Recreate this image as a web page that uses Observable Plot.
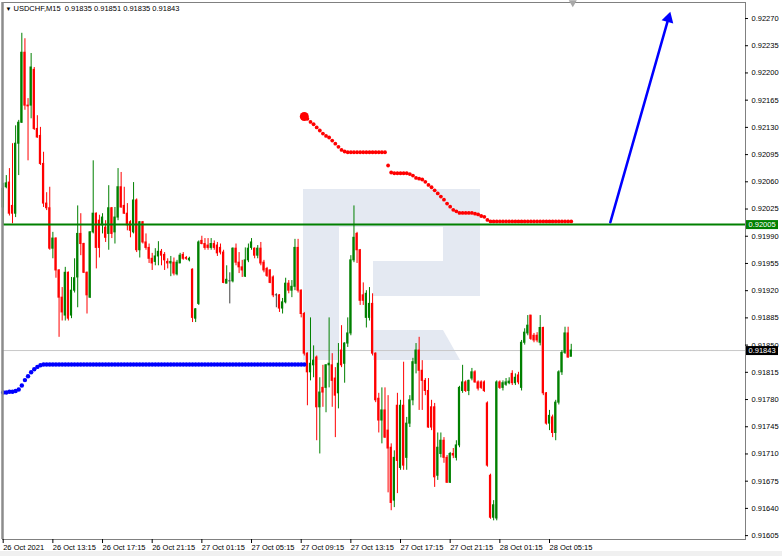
<!DOCTYPE html>
<html><head><meta charset="utf-8">
<script src="https://cdn.jsdelivr.net/npm/d3@7"></script>
<script src="https://cdn.jsdelivr.net/npm/@observablehq/plot@0.6"></script>
<style>
html,body{margin:0;padding:0;background:#fff;}
#wrap{position:relative;width:782px;height:556px;overflow:hidden;}
#bg{position:absolute;left:0;top:0;}
#chart{position:absolute;left:0;top:0;}
</style></head><body>
<div id="wrap">
<svg id="bg" width="782" height="556">
  <rect x="0" y="551" width="782" height="5" fill="#f0f0f0"/>
  <path d="M303,189H480V296H373V261H443V227H339V360H303Z" fill="#e4e9f2"/>
  <path d="M373,330H443L460,360H373Z" fill="#e4e9f2"/>
</svg>
<div id="chart"></div>
</div>
<script>
// Prices in points (price x 100000), one value per 15-minute bar, starting 26 Oct 2021 09:15
const openPts = [
92027,92053,92059,92029,92019,92109,92136,92226,92158,92158,
92204,92128,92119,92083,92032,92026,91974,91987,91946,91911,
91888,91943,91888,91920,91937,91993,91980,91943,91911,91995,
92019,92010,92004,92001,91993,92026,91995,92014,92053,92029,
92019,92008,91995,92036,91972,92008,91982,91975,91961,91957,
91964,91970,91966,91957,91955,91956,91941,91955,91966,91962,
91959,91947,91884,91903,91984,91980,91978,91975,91980,91978,
91975,91969,91929,91932,91932,91974,91956,91950,91938,91959,
91975,91974,91965,91974,91956,91948,91946,91937,91914,91914,
91897,91905,91929,91920,91925,91975,91920,91890,91839,91815,
91824,91834,91770,91795,91795,91824,91824,91807,91788,91843,
91826,91852,91865,91959,91993,91972,91914,91885,91885,91903,
91839,91781,91753,91766,91740,91718,91650,91772,91692,91772,
91705,91749,91779,91826,91843,91817,91804,91791,91770,91770,
91682,91710,91727,91705,91673,91710,91705,91721,91791,91802,
91791,91807,91815,91802,91802,91802,91775,91682,91628,91627,
91802,91795,91799,91801,91813,91801,91811,91795,91853,91865,
91888,91862,91862,91853,91872,91788,91749,91757,91737,91776,
91815,91840,91865,91835];
const highPts = [
92058,92068,92077,92109,92132,92139,92251,92244,92167,92225,
92207,92145,92130,92098,92046,92053,91995,91988,91947,91924,
91950,91944,91937,91961,92029,92019,91981,91944,91996,92087,
92020,92017,92019,92010,92055,92027,92027,92077,92072,92053,
92032,92010,92059,92038,92009,92009,91993,91980,91968,91974,
91983,91973,91969,91961,91964,91962,91959,91968,91969,91964,
91963,91948,91897,91984,91990,91987,91987,91987,91984,91982,
91980,91972,91952,91943,91975,91980,91969,91959,91975,91980,
91987,91975,91978,91982,91959,91950,91947,91939,91916,91915,
91910,91936,91933,91933,91986,91986,91921,91892,91840,91885,
91849,91836,91808,91824,91825,91885,91839,91821,91852,91875,
91853,91885,91965,92029,91995,91973,91930,91920,91924,91916,
91840,91788,91795,91795,91785,91723,91714,91788,91779,91828,
91757,91785,91833,91852,91860,91830,91807,91807,91779,91775,
91737,91737,91731,91708,91712,91717,91727,91797,91824,91804,
91805,91820,91817,91804,91804,91804,91777,91684,91650,91804,
91804,91804,91807,91808,91817,91813,91815,91856,91871,91888,
91888,91865,91866,91888,91873,91789,91766,91760,91779,91817,
91843,91873,91873,91851];
const lowPts = [
92004,92051,92016,92006,92014,92068,92135,92152,92087,92141,
92126,92116,92081,92027,92023,91972,91961,91936,91860,91881,
91881,91881,91884,91917,91898,91965,91942,91890,91910,91993,
91948,91962,91993,91982,91972,91987,91980,92010,92026,92018,
91997,91988,91993,91969,91962,91980,91972,91955,91946,91952,
91952,91952,91946,91948,91938,91939,91939,91955,91959,91959,
91957,91879,91879,91901,91979,91972,91972,91972,91972,91964,
91966,91929,91929,91903,91930,91952,91942,91937,91937,91956,
91972,91961,91961,91952,91943,91937,91929,91911,91898,91892,
91890,91903,91916,91911,91920,91917,91885,91836,91772,91804,
91808,91727,91710,91770,91763,91795,91770,91731,91768,91821,
91801,91847,91862,91956,91955,91901,91901,91872,91881,91836,
91776,91737,91723,91730,91660,91637,91641,91659,91689,91689,
91689,91744,91772,91813,91766,91766,91785,91743,91740,91667,
91676,91705,91698,91672,91672,91704,91701,91718,91788,91789,
91785,91804,91801,91791,91793,91789,91693,91626,91624,91624,
91793,91791,91797,91799,91798,91798,91799,91791,91850,91862,
91856,91853,91853,91849,91785,91747,91740,91731,91727,91773,
91811,91838,91833,91835];
const closePts = [
92051,92058,92019,92019,92109,92136,92226,92158,92157,92207,
92128,92117,92083,92032,92026,91974,91987,91946,91911,91892,
91943,91884,91920,91936,91993,91980,91943,91914,91995,92019,
91975,91975,92014,91988,92026,91993,92014,92053,92027,92019,
92004,91997,92036,91972,92008,91982,91975,91961,91955,91964,
91970,91965,91959,91955,91957,91942,91956,91965,91961,91961,
91961,91885,91896,91982,91980,91975,91975,91980,91975,91968,
91969,91930,91934,91932,91974,91956,91950,91946,91959,91974,
91982,91965,91974,91955,91946,91939,91930,91914,91914,91897,
91905,91929,91920,91925,91975,91920,91890,91839,91815,91826,
91830,91770,91789,91789,91824,91826,91804,91785,91826,91824,
91852,91865,91959,91988,91972,91907,91907,91916,91903,91839,
91779,91753,91766,91731,91717,91647,91705,91701,91772,91695,
91749,91779,91828,91843,91817,91804,91791,91744,91744,91680,
91718,91727,91705,91673,91710,91708,91721,91795,91802,91791,
91804,91815,91802,91794,91795,91791,91695,91628,91644,91802,
91795,91801,91802,91803,91801,91808,91802,91853,91866,91875,
91858,91856,91856,91872,91788,91749,91759,91737,91776,91815,
91840,91865,91834,91843];

// Blue dotted indicator, bars 0..97
const bluePts = [
91789,91789,91790,91790,91791,91793,91798,91805,91810,91815,91819,91822,91824,91825,
91825,91825,91825,91825,91825,91825,91825,91825,91825,91825,91825,91825,91825,91825,
91825,91825,91825,91825,91825,91825,91825,91825,91825,91825,91825,91825,91825,91825,
91825,91825,91825,91825,91825,91825,91825,91825,91825,91825,91825,91825,91825,91825,
91825,91825,91825,91825,91825,91825,91825,91825,91825,91825,91825,91825,91825,91825,
91825,91825,91825,91825,91825,91825,91825,91825,91825,91825,91825,91825,91825,91825,
91825,91825,91825,91825,91825,91825,91825,91825,91825,91825,91825,91825,91825,91825];
const blueStart = 0;
// Red dotted indicator, bars 97..183
const redPts = [
92144,92141,92137,92134,92130,92126,92122,92119,92117,92113,92109,92105,92101,92099,
92098,92098,92098,92098,92098,92098,92098,92098,92098,92098,92098,92098,92098,
92081,92072,92071,92071,92071,92071,92071,92070,92068,92065,92064,92063,92060,92056,
92053,92049,92045,92041,92037,92032,92028,92024,92022,92020,92020,92020,92020,92020,
92019,92018,92016,92015,92011,
92009,92009,92009,92009,92009,92009,92009,92009,92009,92009,92009,92009,92009,92009,
92009,92009,92009,92009,92009,92009,92009,92009,92009,92009,92009,92009,92009];
const redStart = 97;
// Forecast arrow (bar position, points)
const arrowBars = [195.6, 214.3];
const arrowPts = [92008, 92270];
// Levels
const levelPts = 92005;
const currentPts = 91843;
// Axis ticks
const xTickBars = [0,16,32,48,64,80,96,112,128,144,160,176];
const xTickLabels = ["26 Oct 2021","26 Oct 13:15","26 Oct 17:15","26 Oct 21:15","27 Oct 01:15","27 Oct 05:15","27 Oct 09:15","27 Oct 13:15","27 Oct 17:15","27 Oct 21:15","28 Oct 01:15","28 Oct 05:15"];
const yTickPts = [91605,91640,91675,91710,91745,91780,91815,91850,91885,91920,91955,91990,92025,92060,92095,92130,92165,92200,92235,92270];
const symbol = "USDCHF,M15";

const P = v => v / 1e5;
const bars = closePts.map((c, i) => ({i, o: P(openPts[i]), h: P(highPts[i]), l: P(lowPts[i]), c: P(c)}));
const col = d => d.c > d.o ? "#008000" : d.c < d.o ? "#ff0000" : "#404040";
const X0 = -0.2255, X1 = 239.14, Y0 = 0.91600, Y1 = 0.922906;
const pxX = (X1 - X0) / 743, pxY = (Y1 - Y0) / 537;
const fmt = v => P(v).toFixed(5);
const last = bars[bars.length - 1];
const title = `${symbol}  ${last.o.toFixed(5)} ${last.h.toFixed(5)} ${last.l.toFixed(5)} ${last.c.toFixed(5)}`;
const font = "Liberation Sans, Arial, sans-serif";

const blue = bluePts.map((v, k) => ({i: blueStart + k, p: P(v)}));
const red = redPts.map((v, k) => ({i: redStart + k, p: P(v)}));
const arrow = arrowBars.map((b, k) => ({i: b, p: P(arrowPts[k])}));
const ang = 16;

const chart = Plot.plot({
  width: 782, height: 556,
  marginLeft: 2, marginRight: 37, marginTop: 2, marginBottom: 17,
  x: {domain: [X0, X1], axis: null},
  y: {domain: [Y0, Y1], axis: null},
  style: {background: "transparent", fontFamily: font},
  marks: [
    Plot.ruleY([P(currentPts)], {stroke: "#c8c8c8", strokeWidth: 1}),
    Plot.ruleX(bars, {x: "i", y1: "l", y2: "h", stroke: col, strokeWidth: 1}),
    Plot.rect(bars, {
      x1: d => d.i - 0.36, x2: d => d.i + 0.36,
      y1: d => Math.min(d.o, d.c) - pxY * 0.5, y2: d => Math.max(d.o, d.c) + pxY * 0.5,
      fill: col
    }),
    Plot.dot(blue, {x: "i", y: "p", r: 2.2, fill: "#0000ff", stroke: "none"}),
    Plot.dot(red, {x: "i", y: "p", r: 1.9, fill: "#ff0000", stroke: "none"}),
    Plot.dot(red.slice(0, 1), {x: "i", y: "p", r: 4.5, fill: "#ff0000", stroke: "none"}),
    Plot.ruleY([P(levelPts)], {stroke: "#008000", strokeWidth: 2}),
    Plot.line(arrow, {x: "i", y: "p", stroke: "#0000ff", strokeWidth: 2.6}),
    Plot.dot(arrow.slice(1), {x: "i", y: "p", symbol: "triangle", r: 4.5, rotate: ang, fill: "#0000ff", stroke: "none"}),
    // frame
    Plot.frame({stroke: "#808080"}),
    Plot.ruleX([X0], {x: d => d, y1: () => Y0, y2: () => Y1, stroke: "#8c8c8c", strokeWidth: 2.5}),
    // right axis
    Plot.ruleY(yTickPts.map(P), {y: d => d, x1: () => X1, x2: () => X1 + 3 * pxX, stroke: "#000"}),
    Plot.text(yTickPts, {x: () => X1, y: d => P(d), dx: 6, text: fmt, textAnchor: "start", fontSize: 7.5, fill: "#000"}),
    Plot.ruleY([P(levelPts)], {y: d => d, x1: () => X1 + 1 * pxX, x2: () => X1 + 33 * pxX, stroke: "#008000", strokeWidth: 9}),
    Plot.text([levelPts], {x: () => X1, y: d => P(d), dx: 3, text: fmt, textAnchor: "start", fontSize: 7.5, fill: "#fff"}),
    Plot.ruleY([P(currentPts)], {y: d => d, x1: () => X1 + 1 * pxX, x2: () => X1 + 33 * pxX, stroke: "#000", strokeWidth: 9}),
    Plot.text([currentPts], {x: () => X1, y: d => P(d), dx: 3, dy: 0.5, text: fmt, textAnchor: "start", fontSize: 7.5, fill: "#fff"}),
    // bottom axis
    Plot.ruleX(xTickBars, {x: d => d, y1: () => Y0, y2: () => Y0 - 4 * pxY, stroke: "#000"}),
    Plot.text(xTickBars, {x: d => d, y: () => Y0, dy: 8, dx: 0, text: (d, k) => xTickLabels[k], textAnchor: "start", fontSize: 7.5, fill: "#000"}),
    // title and shift marker
    Plot.text([title], {frameAnchor: "top-left", dx: 11, dy: 3, lineAnchor: "top", textAnchor: "start", fontSize: 7.5, fill: "#000"}),
    Plot.text(["\u25BC"], {frameAnchor: "top-left", dx: 3, dy: 4, lineAnchor: "top", textAnchor: "start", fontSize: 6, fill: "#000"}),
    Plot.dot([last.i + 0.5], {x: d => d, y: () => Y1, symbol: "triangle", rotate: 180, r: 3, fill: "#a8a8a8", stroke: "none"})
  ]
});
document.getElementById("chart").appendChild(chart);
</script>
</body></html>
